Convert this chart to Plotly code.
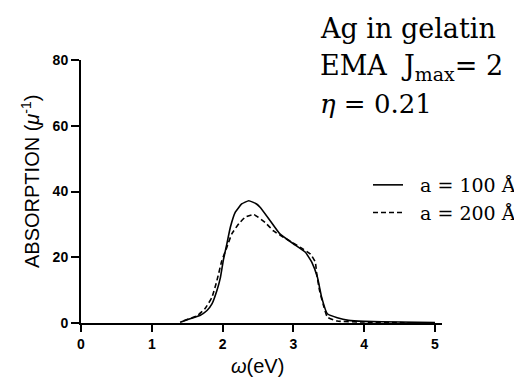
import plotly.graph_objects as go

omega_100 = [1.40, 1.54, 1.68, 1.78, 1.85, 1.92, 1.97, 2.01, 2.06, 2.11, 2.18, 2.27, 2.37, 2.48, 2.53, 2.67, 2.81, 3.00, 3.17, 3.26, 3.34, 3.40, 3.48, 3.62, 3.78, 4.0, 4.5, 5.0]
abs_100 = [0.2, 1.3, 2.3, 3.8, 5.8, 9.9, 13.9, 19.0, 24.0, 29.1, 33.7, 36.2, 37.2, 36.2, 35.2, 31.2, 27.1, 24.1, 21.5, 18.5, 13.9, 7.8, 2.8, 1.6, 0.8, 0.5, 0.3, 0.1]

omega_200 = [1.45, 1.64, 1.75, 1.85, 1.92, 1.99, 2.06, 2.13, 2.23, 2.32, 2.44, 2.60, 2.72, 2.86, 3.10, 3.24, 3.31, 3.33, 3.37, 3.42, 3.48, 3.62, 4.0, 4.5, 5.0]
abs_200 = [0.7, 2.2, 4.3, 7.8, 12.9, 19.0, 23.0, 27.1, 30.2, 32.2, 33.0, 30.6, 28.0, 26.1, 23.0, 21.0, 18.5, 15.0, 9.9, 5.8, 1.8, 0.6, 0.3, 0.1, 0.0]

x_ticks = [0, 1, 2, 3, 4, 5]
y_ticks = [0, 20, 40, 60, 80]
labels = ["a = 100 Å", "a = 200 Å"]

fig = go.Figure()
fig.add_trace(go.Scatter(x=omega_100, y=abs_100, mode="lines", name="\u00a0\u00a0" + labels[0],
                         line=dict(color="black", width=1.6, shape="spline", smoothing=0.4)))
fig.add_trace(go.Scatter(x=omega_200, y=abs_200, mode="lines", name="\u00a0\u00a0" + labels[1],
                         line=dict(color="black", width=1.6, dash="5px,3px", shape="spline", smoothing=0.4)))

axis_font = dict(family="Liberation Sans", size=14, color="black")
fig.update_xaxes(range=[0, 5.1], tickvals=x_ticks, ticktext=[f"<b>{v}</b>" for v in x_ticks],
                 showgrid=False, zeroline=False, showline=True, linecolor="black", linewidth=2,
                 ticks="outside", ticklen=7, tickwidth=2, tickcolor="black", tickfont=axis_font)
fig.update_yaxes(range=[0, 80], tickvals=y_ticks, ticktext=[f"<b>{v}</b>" for v in y_ticks],
                 showgrid=False, zeroline=False, showline=True, linecolor="black", linewidth=2,
                 ticks="outside", ticklen=8, tickwidth=2, tickcolor="black", tickfont=axis_font)

# page body adds an 8px offset; the layout below is expressed in reference-image pixels
OFF = 8
W, H = 522, 379
L, R, T, B = 81, 80, 60, 56
pw, ph = W - L - R, H - T - B

def px(xp):
    return (xp - L) / pw

def py(yp):
    return (H - B - yp) / ph

serif = "DejaVu Serif"
anns = [
    dict(text="Ag in gelatin", x=px(318), y=py(29), size=27),
    dict(text="EMA  J<sub>max</sub>= 2", x=px(318), y=py(67), size=27),
    dict(text="<i>η</i> = 0.21", x=px(318), y=py(104), size=26),
]
for a in anns:
    fig.add_annotation(text=a["text"], x=a["x"], y=a["y"], xref="paper", yref="paper",
                       xanchor="left", yanchor="middle", showarrow=False,
                       font=dict(family=serif, size=a["size"], color="black"))

fig.add_annotation(text="ABSORPTION (<i>μ</i><sup>-1</sup>)", x=px(30), y=py(182), xref="paper", yref="paper",
                   textangle=-90, showarrow=False, xanchor="center", yanchor="middle",
                   font=dict(family="Liberation Sans", size=20, color="black"))
fig.add_annotation(text="<i>ω</i>(eV)", x=px(257), y=py(366), xref="paper", yref="paper",
                   showarrow=False, xanchor="center", yanchor="middle",
                   font=dict(family="Liberation Sans", size=20, color="black"))

fig.update_layout(
    width=W - OFF, height=H - OFF,
    margin=dict(l=L - OFF, r=R, t=T - OFF, b=B, autoexpand=False),
    plot_bgcolor="white", paper_bgcolor="white",
    showlegend=True,
    legend=dict(x=px(368), y=py(166), xanchor="left", yanchor="top",
                font=dict(family=serif, size=19, color="black"),
                bgcolor="rgba(0,0,0,0)", itemwidth=30, tracegroupgap=2),
)

fig.write_html("out.html")
